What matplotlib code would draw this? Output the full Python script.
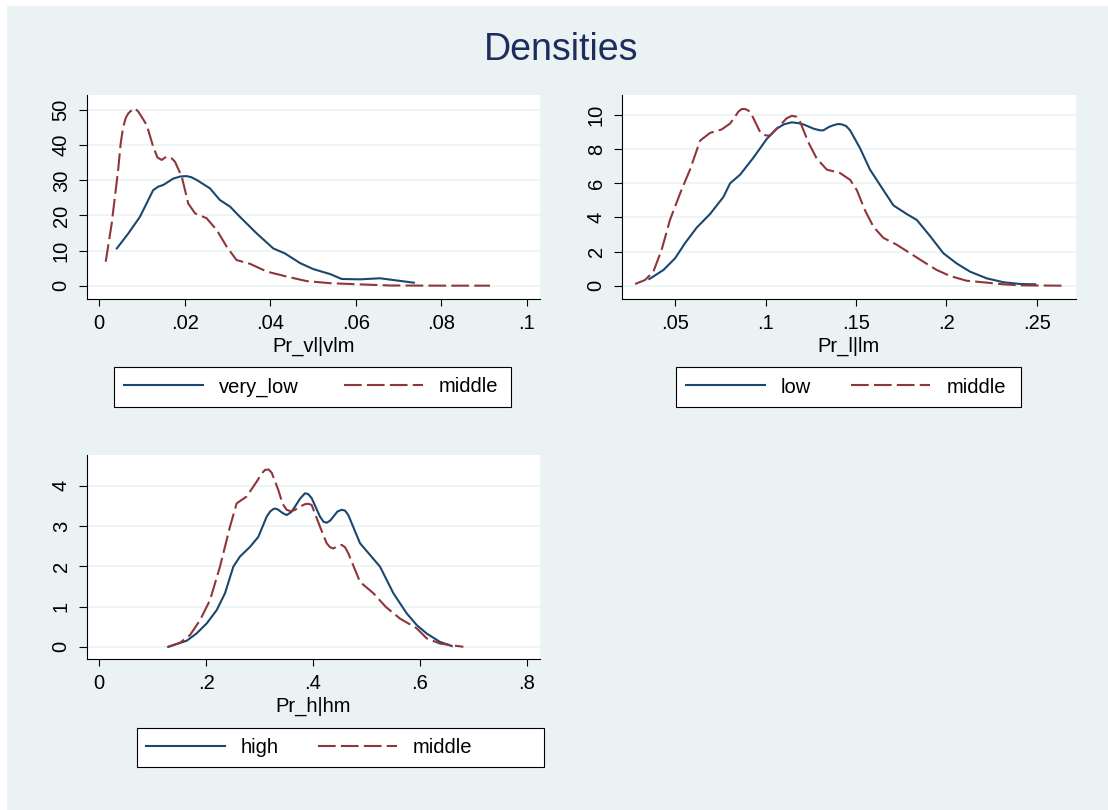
import matplotlib
matplotlib.use("Agg")
import matplotlib.pyplot as plt
from matplotlib.lines import Line2D
from matplotlib.patches import Rectangle
from matplotlib.ticker import FuncFormatter

# ---------------- data ----------------
title = "Densities"

# Panel 1: Pr_vl|vlm
p1_xlabel = "Pr_vl|vlm"
p1_labels = ["very_low", "middle"]
p1_a_x = [0.0041, 0.0068, 0.0095, 0.0126, 0.0138, 0.0150, 0.0173, 0.0190, 0.0204, 0.0215,
          0.0228, 0.0259, 0.0282, 0.0306, 0.0329, 0.0368, 0.0407, 0.0434, 0.0470, 0.0501,
          0.0540, 0.0567, 0.0610, 0.0657, 0.0688, 0.0736]
p1_a_y = [10.6, 14.9, 19.6, 27.2, 28.2, 28.7, 30.5, 31.1, 31.2, 30.9,
          30.1, 27.7, 24.4, 22.5, 19.6, 14.9, 10.6, 9.2, 6.4, 4.7,
          3.3, 1.9, 1.8, 2.1, 1.6, 0.85]
p1_b_x = [0.0015, 0.0029, 0.0044, 0.0050, 0.0056, 0.0062, 0.0068, 0.0076, 0.0083, 0.0091,
          0.0099, 0.0111, 0.0126, 0.0136, 0.0146, 0.0154, 0.0161, 0.0169, 0.0177, 0.0193,
          0.0208, 0.0224, 0.0251, 0.0275, 0.0298, 0.0321, 0.0353, 0.0392, 0.0438, 0.0485,
          0.0540, 0.0602, 0.0680, 0.0797, 0.0914]
p1_b_y = [6.8, 17.7, 32.9, 40.5, 45.3, 47.8, 49.1, 50.0, 50.5, 49.6,
          48.1, 45.7, 39.6, 36.5, 35.8, 36.5, 36.7, 36.3, 35.3, 31.0,
          23.4, 20.6, 19.2, 15.8, 11.1, 7.3, 6.2, 4.0, 2.6, 1.3,
          0.7, 0.4, 0.05, 0.0, 0.0]
p1_xticks = [0, 0.02, 0.04, 0.06, 0.08, 0.1]
p1_yticks = [0, 10, 20, 30, 40, 50]

# Panel 2: Pr_l|lm
p2_xlabel = "Pr_l|lm"
p2_labels = ["low", "middle"]
p2_a_x = [0.0356, 0.0434, 0.0498, 0.0554, 0.0618, 0.0692, 0.0766, 0.0803, 0.0858, 0.0932,
          0.1006, 0.1061, 0.1100, 0.1144, 0.1180, 0.1208, 0.1264, 0.1300, 0.1319, 0.1350,
          0.1375, 0.1400, 0.1421, 0.1445, 0.1467, 0.1522, 0.1577, 0.1651, 0.1707, 0.1780,
          0.1836, 0.1910, 0.1983, 0.2057, 0.2131, 0.2223, 0.2316, 0.2408, 0.2491]
p2_a_y = [0.39, 0.92, 1.6, 2.5, 3.4, 4.2, 5.2, 6.0, 6.5, 7.5,
          8.6, 9.2, 9.45, 9.57, 9.52, 9.45, 9.2, 9.1, 9.1, 9.3,
          9.4, 9.47, 9.45, 9.35, 9.1, 8.05, 6.8, 5.6, 4.7, 4.2,
          3.85, 2.9, 1.9, 1.3, 0.82, 0.43, 0.2, 0.1, 0.08]
p2_b_x = [0.0277, 0.0332, 0.0378, 0.0424, 0.0470, 0.0526, 0.0581, 0.0637, 0.0692, 0.0756,
          0.0803, 0.0830, 0.0849, 0.0868, 0.0886, 0.0905, 0.0923, 0.0969, 0.1000, 0.1024,
          0.1080, 0.1115, 0.1144, 0.1170, 0.1190, 0.1236, 0.1282, 0.1338, 0.1411, 0.1467,
          0.1504, 0.1550, 0.1596, 0.1651, 0.1725, 0.1799, 0.1873, 0.1946, 0.2020, 0.2111,
          0.2223, 0.2316, 0.2408, 0.2648]
p2_b_y = [0.1, 0.33, 0.82, 2.1, 3.85, 5.4, 6.8, 8.5, 8.95, 9.15,
          9.5, 9.9, 10.2, 10.35, 10.35, 10.25, 10.0, 9.0, 8.8, 8.8,
          9.4, 9.8, 9.95, 9.9, 9.6, 8.4, 7.45, 6.8, 6.6, 6.2,
          5.6, 4.4, 3.45, 2.8, 2.4, 1.9, 1.4, 0.92, 0.57, 0.29,
          0.18, 0.08, 0.02, 0.0]
p2_xticks = [0.05, 0.1, 0.15, 0.2, 0.25]
p2_yticks = [0, 2, 4, 6, 8, 10]

# Panel 3: Pr_h|hm
p3_xlabel = "Pr_h|hm"
p3_labels = ["high", "middle"]
p3_a_x = [0.129, 0.1635, 0.182, 0.201, 0.2197, 0.2353, 0.2509, 0.2633, 0.2821, 0.2977,
          0.3133, 0.3200, 0.3258, 0.3300, 0.3351, 0.3430, 0.3507, 0.3590, 0.3663, 0.3760,
          0.385, 0.3910, 0.3975, 0.4131, 0.4200, 0.4256, 0.4320, 0.4381, 0.4460, 0.4537,
          0.4600, 0.4661, 0.488, 0.5067, 0.5254, 0.5504, 0.5754, 0.5941, 0.6128, 0.6378,
          0.6596]
p3_a_y = [0.0, 0.15, 0.33, 0.58, 0.91, 1.33, 1.99, 2.24, 2.48, 2.73,
          3.23, 3.36, 3.42, 3.43, 3.40, 3.32, 3.27, 3.34, 3.48, 3.68,
          3.81, 3.79, 3.69, 3.23, 3.10, 3.08, 3.13, 3.23, 3.36, 3.40,
          3.38, 3.27, 2.57, 2.28, 1.99, 1.33, 0.83, 0.54, 0.33, 0.12,
          0.02]
p3_b_x = [0.129, 0.151, 0.1697, 0.1885, 0.2072, 0.2259, 0.2446, 0.2571, 0.2758, 0.2946,
          0.3040, 0.3102, 0.3170, 0.3227, 0.3351, 0.3430, 0.3507, 0.3590, 0.3663, 0.3760,
          0.385, 0.3910, 0.3975, 0.4131, 0.4256, 0.4320, 0.4381, 0.4460, 0.4537, 0.4600,
          0.4661, 0.488, 0.513, 0.5363, 0.5628, 0.5941, 0.6128, 0.6378, 0.6815]
p3_b_y = [0.0, 0.1, 0.29, 0.66, 1.16, 1.99, 2.98, 3.56, 3.73, 4.1,
          4.30, 4.39, 4.40, 4.32, 3.89, 3.55, 3.40, 3.36, 3.40, 3.48,
          3.54, 3.55, 3.52, 2.98, 2.57, 2.47, 2.44, 2.50, 2.53, 2.47,
          2.32, 1.61, 1.33, 0.99, 0.70, 0.46, 0.21, 0.08, 0.0]
p3_xticks = [0, 0.2, 0.4, 0.6, 0.8]
p3_yticks = [0, 1, 2, 3, 4]

# ---------------- style ----------------
W, H = 1108, 810
BG = "#EAF2F3"
NAVY = "#1A476F"
MAROON = "#90353B"
TITLE_C = "#1C2D5E"
FS = 14.5

plt.rcParams["font.family"] = ["Liberation Sans", "DejaVu Sans"]

fig = plt.figure(figsize=(W / 100, H / 100), dpi=100)
fig.patch.set_facecolor("white")
fig.patches.append(Rectangle((7 / W, 0), 1 - 7 / W, 1 - 6 / H, transform=fig.transFigure,
                             facecolor=BG, edgecolor="none", zorder=-10))


def box(l, t, r, b):
    return [l / W, 1 - b / H, (r - l) / W, (b - t) / H]


def fmt(v, pos=None):
    s = f"{v:g}"
    if s.startswith("0."):
        s = s[1:]
    return s


def panel(rect, xlim, ylim, xticks, yticks, xlabel, ax_x, ax_y, bx, by):
    ax = fig.add_axes(rect)
    ax.set_facecolor("white")
    ax.set_xlim(*xlim)
    ax.set_ylim(*ylim)
    ax.set_xticks(xticks)
    ax.set_yticks(yticks)
    ax.xaxis.set_major_formatter(FuncFormatter(fmt))
    for s in ["top", "right"]:
        ax.spines[s].set_visible(False)
    for s in ["left", "bottom"]:
        ax.spines[s].set_color("black")
        ax.spines[s].set_linewidth(0.8)
    ax.yaxis.grid(True, color=BG, linewidth=1.1)
    ax.set_axisbelow(True)
    ax.tick_params(axis="x", length=5, width=0.8, pad=5.5, labelsize=FS)
    ax.tick_params(axis="y", length=6, width=0.8, pad=5.5, labelsize=FS)
    for lab in ax.get_yticklabels():
        lab.set_rotation(90)
        lab.set_va("center")
    ax.set_xlabel(xlabel, fontsize=FS, labelpad=3.0)
    ax.plot(ax_x, ax_y, color=NAVY, lw=1.5, solid_joinstyle="round")
    ax.plot(bx, by, color=MAROON, lw=1.5, linestyle=(0, (8.5, 2.5)))
    return ax


def legend(labels, frame, line_x, yc, colsp):
    l, t, r, b = frame
    fig.patches.append(Rectangle((l / W, 1 - b / H), (r - l) / W, (b - t) / H,
                                 transform=fig.transFigure, facecolor="white",
                                 edgecolor="black", linewidth=0.8, zorder=2))
    handles = [Line2D([], [], color=NAVY, lw=1.5),
               Line2D([], [], color=MAROON, lw=1.5, linestyle=(0, (8.5, 2.5)))]
    fpx = FS * 100 / 72
    leg = fig.legend(handles, labels, loc="center left",
                     bbox_to_anchor=(line_x / W, 1 - yc / H), ncol=2, frameon=False,
                     borderpad=0, borderaxespad=0, handlelength=79 / fpx,
                     handletextpad=16 / fpx, columnspacing=colsp / fpx, fontsize=FS)
    leg.set_zorder(5)
    return leg


panel(box(86.7, 95, 540, 299), (-0.00295, 0.1031), (-3.8, 54.3), p1_xticks, p1_yticks,
      p1_xlabel, p1_a_x, p1_a_y, p1_b_x, p1_b_y)
panel(box(621.7, 95, 1076, 299), (0.0203, 0.2717), (-0.78, 11.17), p2_xticks, p2_yticks,
      p2_xlabel, p2_a_x, p2_a_y, p2_b_x, p2_b_y)
panel(box(86.7, 455, 540, 659.3), (-0.0236, 0.8249), (-0.31, 4.76), p3_xticks, p3_yticks,
      p3_xlabel, p3_a_x, p3_a_y, p3_b_x, p3_b_y)

legend(p1_labels, (114, 367, 511, 407), 124, 387, 45)
legend(p2_labels, (676, 367, 1021, 407), 686, 387, 40)
legend(p3_labels, (137.3, 727.7, 544, 766.7), 146, 747.2, 39)

fig.text(561.5 / W, 1 - 60 / H, title, ha="center", va="baseline", fontsize=27, color=TITLE_C)

fig.savefig("out.png", dpi=100, facecolor=fig.get_facecolor())
